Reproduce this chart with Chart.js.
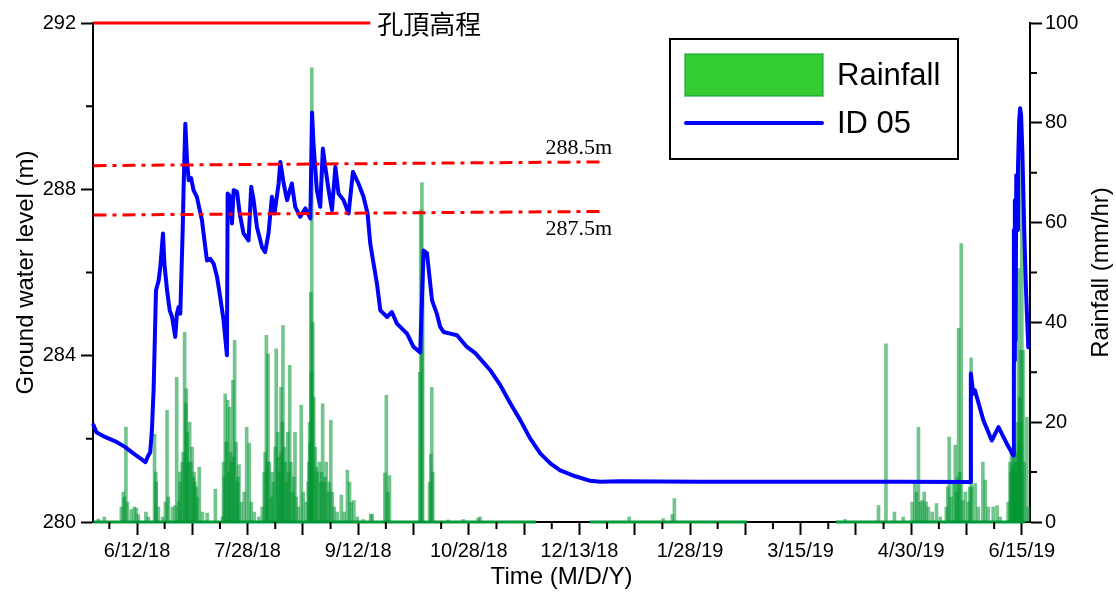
<!DOCTYPE html>
<html>
<head>
<meta charset="utf-8">
<script src="https://cdn.jsdelivr.net/npm/chart.js@4.4.1/dist/chart.umd.min.js"></script>
<style>
  html, body { margin: 0; padding: 0; background: #fff; }
  #wrap { width: 1116px; height: 595px; }
</style>
</head>
<body>
<div id="wrap"><canvas id="chart" width="1116" height="595"></canvas></div>
<script>
// x = days since 6/12/18
const xLabelDays = [0, 46, 92, 138, 184, 230, 276, 322, 368];
const xLabels = ['6/12/18', '7/28/18', '9/12/18', '10/28/18', '12/13/18', '1/28/19', '3/15/19', '4/30/19', '6/15/19'];
const leftTicks = [280, 284, 288, 292];
const rightTicks = [0, 20, 40, 60, 80, 100];

// ground water level ID 05 (m)
const gwDay = [-18.1, -16.9, -13.1, -9.0, -4.9, -1.5, 1.4, 3.5, 4.7, 5.5, 6.2, 6.9, 7.9, 9.0, 9.7, 10.8, 11.4, 12.5, 13.6, 14.6,
  15.9, 16.6, 17.3, 18.0, 19.0, 19.4, 20.1, 20.8, 21.5, 22.5, 23.5, 24.9, 27.0, 28.4, 29.1, 30.5, 31.9, 33.3, 34.6, 36.0,
  37.4, 37.7, 38.8, 39.5, 40.2, 41.6, 42.7, 44.3, 46.4, 47.5, 48.5, 49.9, 52.0, 53.3, 54.7, 56.1, 57.2, 58.9, 59.6, 61.0,
  62.4, 64.4, 65.8, 67.9, 70.0, 72.1, 72.8, 73.4, 74.8, 76.2, 77.3, 78.3, 79.7, 81.1, 82.5, 83.8, 85.9, 88.0, 89.8, 92.1,
  94.2, 95.9, 97.0, 98.4, 99.8, 101.2, 104.0, 106.0, 108.1, 112.3, 115.0, 117.8, 118.5, 119.2, 120.6, 122.7, 124.7, 126.1, 127.5, 130.3,
  133.1, 137.2, 140.7, 146.9, 151.1, 155.3, 159.4, 163.5, 167.7, 171.9, 176.0, 182.3, 188.5, 192.6, 201.0, 234.2, 275.8, 317.4, 346.5, 346.8,
  347.8, 348.5, 352.0, 355.5, 358.3, 361.7, 364.5, 364.7, 364.9, 365.1, 365.4, 365.7, 366.0, 366.4, 366.9, 367.3, 367.7, 368.2, 368.5, 369.0,
  369.6, 370.1, 370.7];
const gwLevel = [282.33, 282.16, 282.04, 281.94, 281.80, 281.65, 281.53, 281.44, 281.60, 281.68, 282.21, 283.17, 285.57, 285.81, 286.13, 286.94, 286.21, 285.57, 285.09, 284.93,
  284.45, 285.01, 285.17, 285.01, 287.02, 288.06, 289.58, 288.70, 288.22, 288.27, 287.98, 287.82, 287.26, 286.61, 286.29, 286.33, 286.21, 285.89, 285.41, 284.85,
  284.01, 287.90, 287.82, 287.18, 287.98, 287.94, 287.42, 286.94, 286.77, 288.06, 287.74, 287.09, 286.61, 286.49, 286.94, 287.82, 287.42, 288.14, 288.66, 288.14,
  287.74, 288.14, 287.58, 287.34, 287.54, 287.30, 289.85, 289.10, 287.98, 287.58, 288.98, 288.54, 287.98, 287.50, 288.54, 287.90, 287.74, 287.42, 288.42, 288.14,
  287.82, 287.42, 286.70, 286.21, 285.73, 285.09, 284.93, 285.05, 284.77, 284.53, 284.21, 284.08, 285.33, 286.53, 286.46, 285.33, 285.01, 284.69, 284.57, 284.53,
  284.49, 284.21, 284.06, 283.65, 283.29, 282.85, 282.45, 282.01, 281.65, 281.41, 281.24, 281.10, 280.99, 280.97, 280.98, 280.97, 280.97, 280.97, 280.96, 283.57,
  283.09, 283.17, 282.45, 281.96, 282.28, 281.89, 281.60, 287.02, 283.89, 287.74, 284.37, 288.34, 287.02, 288.52, 289.66, 289.95, 289.78, 288.94, 288.22, 287.02,
  285.81, 285.02, 284.20];

// rainfall, [day, mm/hr]
const rainfall = [
  [-16.1, 0.6], [-13.6, 1.0], [-6.5, 3], [-5.7, 6], [-5.3, 5], [-4.6, 19], [-4.0, 4], [-2.4, 2.5], [-1.1, 3], [-0.3, 2.8],
  [0.5, 1.5], [3.7, 2], [4.7, 1], [7.3, 17.6], [7.8, 10], [8.0, 8], [8.9, 3], [10.7, 1], [11.8, 4], [12.5, 22.4],
  [13.0, 5], [14.7, 3], [15.9, 3.3], [16.5, 29], [17.4, 4], [17.8, 10], [18.0, 8], [18.8, 12], [19.2, 14], [19.8, 38],
  [20.3, 23.7], [20.5, 26.7], [20.9, 18], [21.2, 12], [21.9, 20], [22.4, 12], [22.9, 15], [23.4, 9], [23.8, 10], [24.1, 8],
  [24.6, 7], [25.1, 5], [25.9, 11], [27.2, 2], [29.2, 1.8], [32.6, 6.6], [35.5, 1], [36.0, 12], [36.3, 9], [36.7, 25.7],
  [37.1, 16], [37.7, 24.4], [38.2, 10], [38.5, 23], [38.9, 14], [39.2, 12], [39.9, 28.4], [40.2, 13], [40.6, 36.4], [41.2, 16],
  [41.7, 8], [42.0, 9], [42.4, 11.5], [43.4, 4], [44.6, 6], [45.6, 19], [46.7, 15.8], [47.5, 4], [48.8, 2], [50.7, 1],
  [52.1, 3], [52.9, 10], [53.3, 14], [53.8, 37.4], [54.2, 12], [54.5, 33.7], [55.0, 12], [55.8, 5], [56.2, 10], [56.7, 8],
  [57.5, 15], [57.9, 34.7], [58.5, 18], [58.8, 13], [59.2, 10], [59.9, 27], [60.0, 14], [60.4, 20], [60.7, 39.4], [61.2, 15],
  [61.7, 12], [62.1, 8], [62.7, 18], [63.0, 10], [63.5, 31.4], [64.0, 12], [64.6, 6], [65.2, 9], [65.7, 18], [66.2, 5],
  [67.1, 3], [68.3, 23.4], [69.1, 6], [70.4, 4], [71.2, 8], [71.5, 12], [71.8, 20], [72.0, 16], [72.3, 46], [72.5, 30],
  [72.7, 91], [73.1, 40], [73.5, 25], [74.1, 15], [74.6, 11], [75.0, 10], [75.8, 12], [76.4, 8], [76.8, 10], [77.2, 23.7],
  [77.9, 8], [78.2, 9], [78.7, 12], [79.5, 6], [80.0, 8], [80.6, 20.4], [81.2, 6], [82.0, 3], [83.3, 2], [85.0, 5.4],
  [86.2, 2], [87.5, 10.4], [88.4, 8], [89.1, 4], [90.2, 4.3], [91.6, 1], [94.1, 0.5], [97.2, 1.6], [97.8, 1.5], [103.1, 9.8],
  [103.7, 25.4], [104.3, 6], [105.0, 9.3], [117.6, 30], [118.0, 62.5], [118.5, 68], [118.8, 50], [121.7, 8], [122.2, 13.6], [122.6, 27],
  [123.0, 10], [129.4, 0.4], [135.7, 0.5], [141.9, 0.8], [142.7, 1], [204.7, 1], [218.8, 0.7], [222.6, 1.5], [223.5, 4.7], [294.5, 0.5],
  [308.4, 3.3], [311.5, 35.7], [315.0, 2], [318.7, 1], [322.4, 4], [323.5, 7.7], [324.2, 6], [325.0, 19], [325.7, 4], [326.6, 4.3],
  [327.4, 6], [328.2, 4], [329.1, 3], [330.7, 2], [332.5, 3.7], [334.1, 1], [336.6, 3], [337.2, 7], [337.8, 17], [338.6, 5],
  [339.5, 8], [340.3, 15.4], [340.9, 6], [341.2, 9], [341.7, 38.8], [342.2, 10], [342.8, 55.8], [343.4, 4.3], [344.5, 6], [345.7, 4],
  [346.3, 7], [346.9, 32.9], [347.2, 7], [348.6, 7.7], [349.9, 3], [351.8, 12], [352.8, 8.4], [354.0, 3], [356.1, 3], [357.7, 3.3],
  [359.0, 1], [362.3, 4], [363.1, 12], [363.4, 10], [363.7, 14], [364.0, 11], [364.4, 14], [364.7, 12], [365.0, 13], [365.3, 10],
  [365.6, 14], [366.0, 12], [366.3, 20], [366.6, 50.8], [366.9, 16], [367.1, 25], [367.5, 34.4], [367.8, 20], [368.0, 73], [368.5, 34.4],
  [369.0, 12], [370.1, 21], [370.7, 3]
];

// periods with a rain record (zero line)
const rainLoggedFrom = [-18.1, 188.3, 290.6];
const rainLoggedTo = [165.9, 253.7, 369.3];

// reference levels
const holeTopLevel = 292;
const holeTopDays = [-18.1, 97.0];
const upperLimitDays = [-18.1, 194.7];
const upperLimitLevel = [288.57, 288.66];
const lowerLimitDays = [-18.1, 194.7];
const lowerLimitLevel = [287.38, 287.47];
const holeTopText = '孔頂高程';
const upperLimitText = '288.5m';
const lowerLimitText = '287.5m';
const rightTitle = 'Rainfall (mm/hr)';

const X_MIN = -18.3, X_MAX = 371.4;
const SANS = '"Liberation Sans", Arial, sans-serif';

const gwPoints = gwDay.map((d, i) => ({ x: d, y: gwLevel[i] }));
const rainPoints = rainfall.map(([d, mm]) => ({ x: d, y: mm }));
const zeroLine = [];
rainLoggedFrom.forEach((d, i) => {
  zeroLine.push({ x: d, y: 0 }, { x: rainLoggedTo[i], y: 0 }, { x: rainLoggedTo[i] + 0.1, y: null });
});

// kleine Zwischenstriche an allen Achsen + rechter Achsentitel
const minorTicks = {
  id: 'minorTicks',
  afterDraw(chart) {
    const { ctx, scales: { x, y, y2 } } = chart;
    ctx.save();
    ctx.strokeStyle = '#000';
    ctx.lineWidth = 2;
    ctx.beginPath();
    for (let d = -11.5; d < X_MAX; d += 23) {
      const px = x.getPixelForValue(d);
      ctx.moveTo(px, x.top); ctx.lineTo(px, x.top + 7);
    }
    [282, 286, 290].forEach(v => {
      const py = y.getPixelForValue(v);
      ctx.moveTo(y.right, py); ctx.lineTo(y.right - 7, py);
    });
    [10, 30, 50, 70, 90].forEach(v => {
      const py = y2.getPixelForValue(v);
      ctx.moveTo(y2.left, py); ctx.lineTo(y2.left + 7, py);
    });
    ctx.stroke();

    // Titel rechts, von unten nach oben gelesen
    ctx.translate(y2.right - 15, (y2.top + y2.bottom) / 2);
    ctx.rotate(-Math.PI / 2);
    ctx.fillStyle = '#000';
    ctx.font = '24px ' + SANS;
    ctx.textAlign = 'center';
    ctx.textBaseline = 'middle';
    ctx.fillText(rightTitle, 0, 0);
    ctx.restore();
  }
};

// Beschriftungen der roten Linien
const levelLabels = {
  id: 'levelLabels',
  afterDatasetsDraw(chart) {
    const { ctx, scales: { x, y } } = chart;
    ctx.save();
    ctx.fillStyle = '#000';
    ctx.font = '26px "Noto Sans CJK TC", "Noto Sans CJK SC", sans-serif';
    ctx.textAlign = 'left';
    ctx.textBaseline = 'middle';
    ctx.fillText(holeTopText, x.getPixelForValue(holeTopDays[1]) + 7, y.getPixelForValue(holeTopLevel) + 1);

    ctx.font = '22px "Liberation Serif", "Times New Roman", serif';
    ctx.textAlign = 'right';
    ctx.textBaseline = 'alphabetic';
    const ux = x.getPixelForValue(upperLimitDays[1]) + 7;
    ctx.fillText(upperLimitText, ux, y.getPixelForValue(upperLimitLevel[1]) - 8);
    const lx = x.getPixelForValue(lowerLimitDays[1]) + 7;
    ctx.fillText(lowerLimitText, lx, y.getPixelForValue(lowerLimitLevel[1]) + 24);
    ctx.restore();
  }
};

// Legende im Kasten
const boxLegend = {
  id: 'boxLegend',
  afterDraw(chart) {
    const { ctx } = chart;
    ctx.save();
    ctx.fillStyle = '#fff';
    ctx.fillRect(670, 39, 288, 120);
    ctx.strokeStyle = '#000';
    ctx.lineWidth = 2;
    ctx.strokeRect(670, 39, 288, 120);

    ctx.fillStyle = '#33cc33';
    ctx.fillRect(685, 54, 138, 42);
    ctx.strokeStyle = 'rgba(20,160,50,0.55)';
    ctx.lineWidth = 2;
    ctx.strokeRect(685, 54, 138, 42);

    ctx.strokeStyle = '#0000ff';
    ctx.lineWidth = 4;
    ctx.lineCap = 'round';
    ctx.beginPath();
    ctx.moveTo(686, 123); ctx.lineTo(822, 123);
    ctx.stroke();

    ctx.fillStyle = '#000';
    ctx.font = '31px ' + SANS;
    ctx.textAlign = 'left';
    ctx.textBaseline = 'middle';
    ctx.fillText('Rainfall', 837, 76);
    ctx.fillText('ID 05', 837, 124);
    ctx.restore();
  }
};

new Chart(document.getElementById('chart'), {
  type: 'line',
  data: {
    datasets: [
      {
        label: 'hole top',
        data: holeTopDays.map(d => ({ x: d, y: holeTopLevel })),
        yAxisID: 'y', borderColor: '#ff0000', borderWidth: 3, pointRadius: 0, order: 0, clip: 4
      },
      {
        label: 'upper',
        data: upperLimitDays.map((d, i) => ({ x: d, y: upperLimitLevel[i] })),
        yAxisID: 'y', borderColor: '#ff0000', borderWidth: 3, borderDash: [13, 6, 4, 6], pointRadius: 0, order: 0
      },
      {
        label: 'lower',
        data: lowerLimitDays.map((d, i) => ({ x: d, y: lowerLimitLevel[i] })),
        yAxisID: 'y', borderColor: '#ff0000', borderWidth: 3, borderDash: [13, 6, 4, 6], pointRadius: 0, order: 0
      },
      {
        label: 'ID 05',
        data: gwPoints,
        yAxisID: 'y', borderColor: '#0000ff', borderWidth: 4, pointRadius: 0,
        borderJoinStyle: 'round', borderCapStyle: 'round', tension: 0, order: 1, clip: 4
      },
      {
        label: 'Rainfall',
        type: 'bar',
        data: rainPoints,
        yAxisID: 'y2', backgroundColor: 'rgba(0,150,50,0.55)', borderWidth: 0,
        barThickness: 3, grouped: false, order: 2, clip: 4
      },
      {
        label: 'Rainfall zero',
        data: zeroLine,
        yAxisID: 'y2', borderColor: '#009a3a', borderWidth: 3, pointRadius: 0, spanGaps: false, order: 2, clip: 4
      }
    ]
  },
  options: {
    responsive: false,
    animation: false,
    devicePixelRatio: 1,
    layout: { padding: { top: 23, left: 0, right: 0, bottom: 0 } },
    plugins: { legend: { display: false }, tooltip: { enabled: false } },
    scales: {
      x: {
        type: 'linear', position: 'bottom', min: X_MIN, max: X_MAX, offset: false,
        afterBuildTicks: s => {
          const t = [];
          xLabelDays.forEach(d => { t.push({ value: d }); if (d + 23 < X_MAX) t.push({ value: d + 23 }); });
          s.ticks = t;
        },
        afterFit: s => { s.height = 73; },
        grid: { drawOnChartArea: false, offset: false, tickLength: 13, tickWidth: 2, tickColor: '#000' },
        border: { color: '#000', width: 2 },
        ticks: {
          autoSkip: false, maxRotation: 0, minRotation: 0, padding: 4, color: '#000',
          font: { family: SANS, size: 20 },
          callback: v => { const i = xLabelDays.indexOf(v); return i >= 0 ? xLabels[i] : ''; }
        },
        title: { display: true, text: 'Time (M/D/Y)', color: '#000', font: { family: SANS, size: 24 }, padding: { top: 0, bottom: 3 } }
      },
      y: {
        position: 'left', min: 280, max: 292,
        afterBuildTicks: s => { s.ticks = leftTicks.map(v => ({ value: v })); },
        afterFit: s => { s.width = 93; },
        grid: { drawOnChartArea: false, tickLength: 12, tickWidth: 2, tickColor: '#000' },
        border: { color: '#000', width: 2 },
        ticks: { padding: 5, color: '#000', font: { family: SANS, size: 20 } },
        title: { display: true, text: 'Ground water level (m)', color: '#000', font: { family: SANS, size: 24 }, padding: { top: 12, bottom: 0 } }
      },
      y2: {
        position: 'right', min: 0, max: 100,
        afterBuildTicks: s => { s.ticks = rightTicks.map(v => ({ value: v })); },
        afterFit: s => { s.width = 86; },
        grid: { drawOnChartArea: false, tickLength: 12, tickWidth: 2, tickColor: '#000' },
        border: { color: '#000', width: 2 },
        ticks: { padding: 3, color: '#000', font: { family: SANS, size: 20 } },
        title: { display: false }
      }
    }
  },
  plugins: [minorTicks, levelLabels, boxLegend]
});
</script>
</body>
</html>
